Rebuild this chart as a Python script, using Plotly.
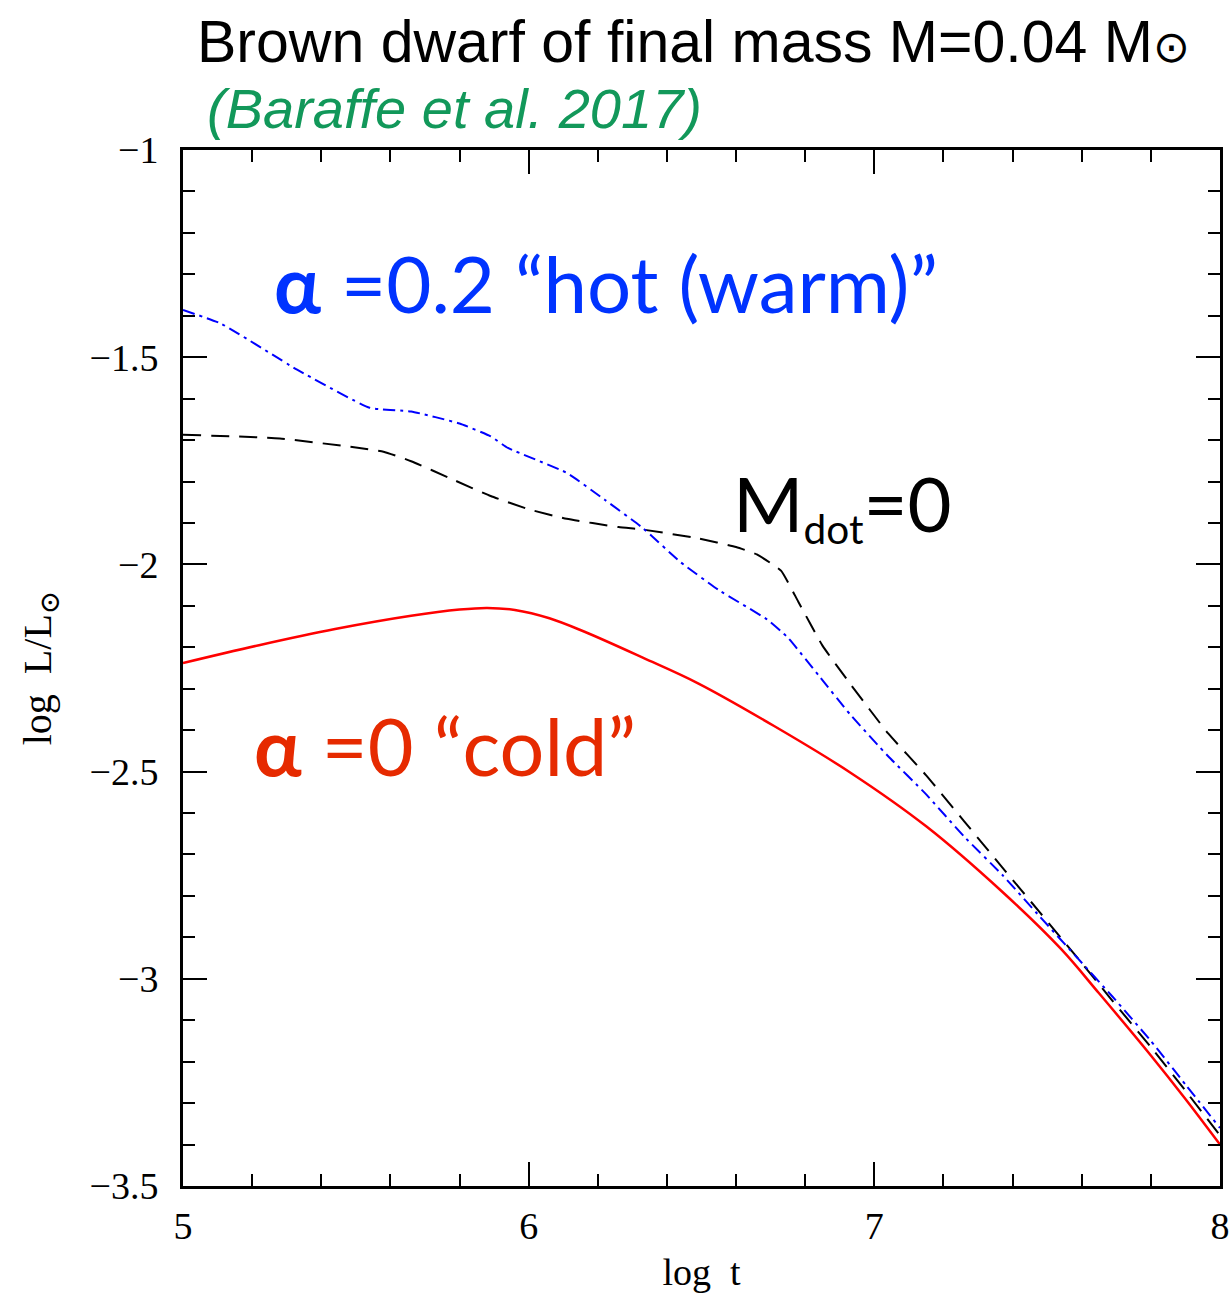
import plotly.graph_objects as go

# Luminosity evolution of a 0.04 Msun brown dwarf (log t in yr, log L/Lsun)
cold_logt = [5.00, 5.22, 5.44, 5.66, 5.80, 5.88, 5.96, 6.06, 6.16, 6.33, 6.49,
             6.71, 6.93, 7.15, 7.37, 7.54, 7.65, 7.80, 7.90, 8.00]
cold_logL = [-2.238, -2.195, -2.156, -2.124, -2.109, -2.105, -2.110, -2.130,
             -2.162, -2.225, -2.287, -2.390, -2.502, -2.632, -2.790, -2.928,
             -3.035, -3.185, -3.290, -3.400]

noacc_logt = [5.00, 5.28, 5.50, 5.58, 5.66, 5.78, 5.89, 6.00, 6.11, 6.26, 6.33,
              6.49, 6.60, 6.66, 6.73, 6.78, 6.85, 6.93, 7.04, 7.15, 7.26, 7.37,
              7.48, 7.59, 7.68, 7.80, 7.90, 8.00]
noacc_logL = [-1.687, -1.696, -1.718, -1.728, -1.751, -1.795, -1.835, -1.867,
              -1.890, -1.910, -1.916, -1.937, -1.958, -1.976, -2.015, -2.090,
              -2.196, -2.288, -2.408, -2.509, -2.620, -2.731, -2.841, -2.952,
              -3.044, -3.165, -3.270, -3.378]

hot_logt = [5.00, 5.11, 5.33, 5.54, 5.66, 5.80, 5.89, 5.94, 6.11, 6.22, 6.33,
            6.44, 6.55, 6.69, 6.75, 6.84, 6.93, 7.04, 7.15, 7.26, 7.37, 7.48,
            7.59, 7.69, 7.80, 7.90, 8.00]
hot_logL = [-1.386, -1.419, -1.530, -1.622, -1.631, -1.660, -1.691, -1.719,
            -1.779, -1.844, -1.912, -1.995, -2.062, -2.133, -2.177, -2.269,
            -2.362, -2.463, -2.555, -2.657, -2.749, -2.851, -2.952, -3.044,
            -3.150, -3.255, -3.360]

x_ticks = [5, 6, 7, 8]
x_ticktext = ["5", "6", "7", "8"]
y_ticks = [-1, -1.5, -2, -2.5, -3, -3.5]
y_ticktext = ["\u22121", "\u22121.5", "\u22122", "\u22122.5", "\u22123", "\u22123.5"]

serif = "Liberation Serif, DejaVu Serif, serif"
narrow = "Liberation Sans Narrow, Arial Narrow, Liberation Sans, sans-serif"
humanist = "Lato, Open Sans, sans-serif"

fig = go.Figure()
fig.add_trace(go.Scatter(x=cold_logt, y=cold_logL, mode="lines",
                         line=dict(color="#ff0000", width=2.5, shape="spline", smoothing=1.0),
                         showlegend=False))
fig.add_trace(go.Scatter(x=noacc_logt, y=noacc_logL, mode="lines",
                         line=dict(color="#000000", width=2, dash="18px,10px",
                                   shape="spline", smoothing=0.4),
                         showlegend=False))
fig.add_trace(go.Scatter(x=hot_logt, y=hot_logL, mode="lines",
                         line=dict(color="#0000ff", width=2, dash="12px,5px,3px,5px",
                                   shape="spline", smoothing=0.4),
                         showlegend=False))

axis_common = dict(
    showgrid=False, zeroline=False, automargin=False,
    showline=True, linecolor="black", linewidth=3, mirror="ticks",
    ticks="inside", ticklen=24, tickwidth=2, tickcolor="black",
    tickfont=dict(family=serif, size=38, color="black"),
)

fig.update_xaxes(
    range=[5, 8], tickvals=x_ticks, ticktext=x_ticktext,
    minor=dict(ticks="inside", ticklen=12, tickwidth=2, tickcolor="black", dtick=0.2),
    title=dict(text="log  t", font=dict(family=serif, size=38, color="black"), standoff=16),
    ticklabelstandoff=4,
    **axis_common,
)
fig.update_yaxes(
    range=[-3.5, -1], tickvals=y_ticks, ticktext=y_ticktext,
    minor=dict(ticks="inside", ticklen=12, tickwidth=2, tickcolor="black", dtick=0.1),
    title=dict(text="log  L/L<sub>\u2299</sub>", font=dict(family=serif, size=40, color="black"),
               standoff=26),
    ticklabelstandoff=14,
    **axis_common,
)

annotations = [
    dict(text="Brown dwarf of final mass M=0.04 M<span style='font-size:44px'>\u2299</span>",
         xref="paper", yref="paper",
         x=0.0116, y=1.1042, xanchor="left", yanchor="middle", showarrow=False,
         font=dict(family=narrow, size=59, color="black")),
    dict(text="<i>(Baraffe et al. 2017)</i>", xref="paper", yref="paper",
         x=0.0212, y=1.0405, xanchor="left", yanchor="middle", showarrow=False,
         font=dict(family=narrow, size=56, color="#12985a")),
    dict(text="<b>\u03b1</b> =0.2 \u201chot (warm)\u201d", x=5.257, y=-1.321,
         xanchor="left", yanchor="middle", showarrow=False,
         font=dict(family=humanist, size=78, color="#0033ff")),
    dict(text="M<span style='font-size:58px'><sub>dot</sub></span>=0", x=6.585, y=-1.857,
         xanchor="left", yanchor="middle", showarrow=False,
         font=dict(family=humanist, size=76, color="black")),
    dict(text="<b>\u03b1</b> =0 \u201ccold\u201d", x=5.2, y=-2.436,
         xanchor="left", yanchor="middle", showarrow=False,
         font=dict(family=humanist, size=79, color="#e62a00")),
]

fig.update_layout(
    width=1231, height=1293,
    margin=dict(l=183, r=11, t=150, b=107),
    paper_bgcolor="white", plot_bgcolor="white",
    annotations=annotations,
)

fig.write_html("out.html")
